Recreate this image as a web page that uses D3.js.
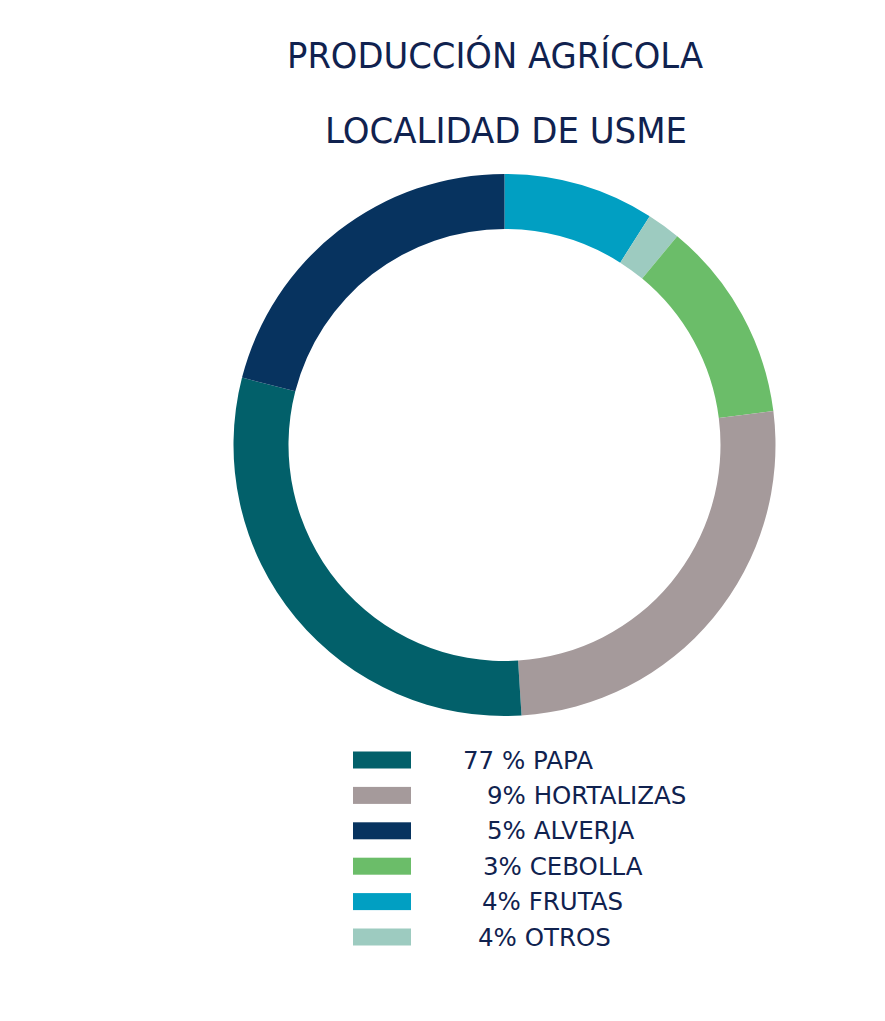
<!DOCTYPE html>
<html>
<head>
<meta charset="utf-8">
<script src="https://cdn.jsdelivr.net/npm/d3@7"></script>
<style>
  body { margin: 0; background: #fff; }
  svg { display: block; }
</style>
</head>
<body>
<svg id="chart" width="885" height="1021"></svg>
<script>
// data (legend order)
const categories = ['PAPA', 'HORTALIZAS', 'ALVERJA', 'CEBOLLA', 'FRUTAS', 'OTROS'];
const legendLabels = ['77 % PAPA', '9% HORTALIZAS', '5% ALVERJA', '3% CEBOLLA', '4% FRUTAS', '4% OTROS'];
const sliceShares = [30, 26, 21, 12, 9, 2];   // share of the ring as drawn
const drawOrder = ['FRUTAS', 'OTROS', 'CEBOLLA', 'HORTALIZAS', 'PAPA', 'ALVERJA'];
const colors = ['#02606a', '#a59a9b', '#07335f', '#6bbd69', '#019fc2', '#9dcbc0'];
const titleLines = ['PRODUCCIÓN AGRÍCOLA', 'LOCALIDAD DE USME'];

const svg = d3.select('#chart');
const navy = '#10224f';

// title
svg.append('text').attr('x', 495).attr('y', 68).attr('text-anchor', 'middle')
  .attr('font-family', 'DejaVu Sans').attr('font-size', 35).attr('fill', navy)
  .attr('textLength', 416).attr('lengthAdjust', 'spacingAndGlyphs').text(titleLines[0]);
svg.append('text').attr('x', 506).attr('y', 143).attr('text-anchor', 'middle')
  .attr('font-family', 'DejaVu Sans').attr('font-size', 35).attr('fill', navy)
  .attr('textLength', 362).attr('lengthAdjust', 'spacingAndGlyphs').text(titleLines[1]);

// donut
const slices = drawOrder.map(function(name) {
  const i = categories.indexOf(name);
  return { name: name, value: sliceShares[i], color: colors[i] };
});
const pie = d3.pie().sort(null).value(d => d.value);
const arc = d3.arc().innerRadius(216).outerRadius(271);

const ring = svg.append('g').attr('transform', 'translate(504.5,445)');
ring.selectAll('path').data(pie(slices)).join('path')
  .attr('d', arc).attr('fill', d => d.data.color);

// legend
const legendY = d3.scalePoint().domain(categories).range([760, 937]);
const labelX = [463, 487, 487, 483, 482, 478];
const legend = svg.append('g');
categories.forEach(function(c, i) {
  legend.append('rect').attr('x', 353).attr('y', legendY(c) - 8.5)
    .attr('width', 58).attr('height', 17).attr('fill', colors[i]);
  legend.append('text').attr('x', labelX[i]).attr('y', legendY(c) + 8.5)
    .attr('font-family', 'DejaVu Sans').attr('font-size', 24.5).attr('fill', navy)
    .text(legendLabels[i]);
});
</script>
</body>
</html>
